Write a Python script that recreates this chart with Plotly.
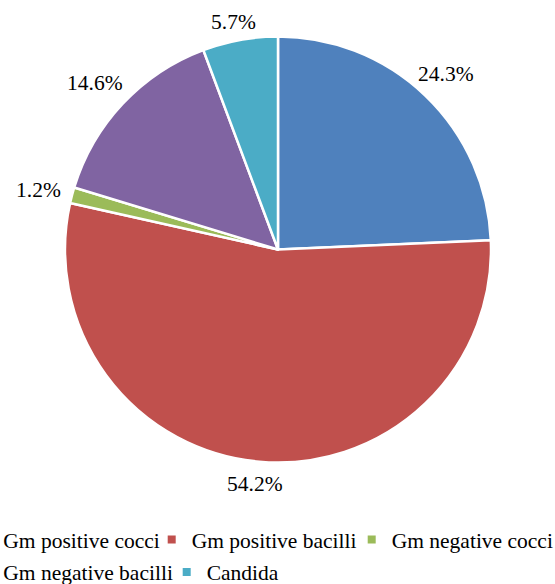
import math
import plotly.graph_objects as go

labels = ["Gm positive cocci", "Gm positive bacilli", "Gm negative cocci",
          "Gm negative bacilli", "Candida"]
values = [24.3, 54.2, 1.2, 14.6, 5.7]
colors = ["#4F81BD", "#C0504D", "#9BBB59", "#8064A2", "#4BACC6"]

W, H = 555, 584
FONT = "Liberation Serif"
FS = 21.5
cx, cy, r = 278, 249.5, 213

fig = go.Figure()
fig.add_trace(go.Pie(
    labels=labels,
    values=values,
    sort=False,
    direction="clockwise",
    rotation=0,
    marker=dict(colors=colors, line=dict(color="white", width=2.5)),
    textinfo="none",
    showlegend=False,
    domain=dict(x=[(cx - r) / W, (cx + r) / W],
                y=[1 - (cy + r) / H, 1 - (cy - r) / H]),
    hoverinfo="label+percent",
))

# data labels placed outside each slice, centred along the slice's mid-angle
char_w = {"%": 0.833, ".": 0.25}
total = sum(values)
cum = 0.0
annotations = []
for v in values:
    theta = math.radians(360.0 * (cum + v / 2) / total)
    cum += v
    txt = f"{100 * v / total:.1f}%"
    hw = 0.5 * FS * sum(char_w.get(c, 0.5) for c in txt)
    hh = 9
    d = r + 8 + abs(math.sin(theta)) * hw + abs(math.cos(theta)) * hh
    px = cx + d * math.sin(theta) - 3
    py = cy - d * math.cos(theta) + 3
    annotations.append(dict(
        text=txt, x=px / W, y=1 - py / H, xref="paper", yref="paper",
        xanchor="center", yanchor="middle", showarrow=False,
        font=dict(family=FONT, size=FS, color="black"),
    ))

# legend: one entry per category, laid out in two rows as in the reference
legend_pos = [(3.3, 539.5), (191.7, 539.5), (391.7, 539.5), (3.3, 572), (206.7, 572)]
legend_layout = {}
for i, (lab, col) in enumerate(zip(labels, colors)):
    key = "legend" if i == 0 else f"legend{i + 1}"
    fig.add_trace(go.Scatter(
        x=[None], y=[None], mode="markers", name=lab,
        marker=dict(symbol="square", size=8, color=col),
        legend=key, showlegend=True, hoverinfo="skip",
    ))
    tx, ty = legend_pos[i]
    legend_layout[key] = dict(
        x=(tx - 40) / W, xanchor="left",
        y=1 - ty / H, yanchor="middle",
        orientation="h",
        bgcolor="rgba(0,0,0,0)",
        font=dict(family=FONT, size=FS, color="black"),
    )

fig.update_layout(
    width=W, height=H,
    margin=dict(l=0, r=0, t=0, b=0, autoexpand=False),
    paper_bgcolor="white",
    plot_bgcolor="white",
    xaxis=dict(visible=False),
    yaxis=dict(visible=False),
    annotations=annotations,
    **legend_layout,
)

fig.write_html("out.html")
